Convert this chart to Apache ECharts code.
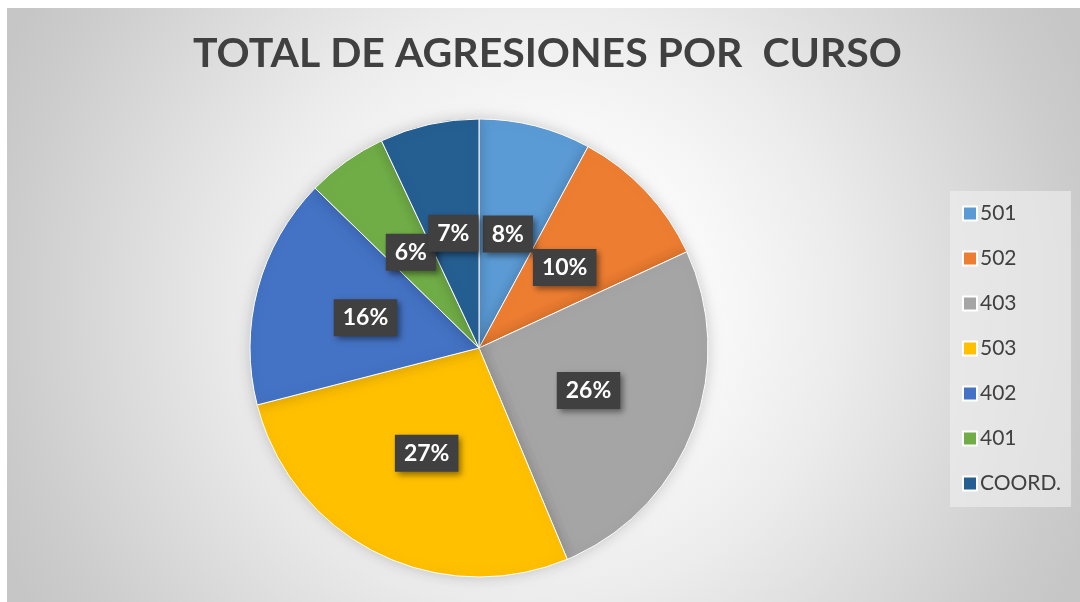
<!DOCTYPE html>
<html>
<head>
<meta charset="utf-8">
<script src="https://cdn.jsdelivr.net/npm/echarts@6/dist/echarts.min.js"></script>
<style>html,body{margin:0;padding:0;background:#fff;}#c{width:1080px;height:602px;}</style>
</head>
<body>
<div id="c"></div>
<script>
const categories = ['501', '502', '403', '503', '402', '401', 'COORD.'];
const values = [7.9, 10.2, 25.6, 27.3, 16.3, 5.7, 7.0];
const colors = ['#5B9BD5', '#ED7D31', '#A5A5A5', '#FFC000', '#4472C4', '#70AD47', '#255E91'];
const titleText = 'TOTAL DE AGRESIONES POR  CURSO';

const chart = echarts.init(document.getElementById('c'), null, {renderer: 'canvas'});
const font = 'Lato, "Open Sans", sans-serif';
chart.setOption({
  animation: false,
  graphic: [
    {type: 'rect', z: -10, shape: {x: 7, y: 8, width: 1073, height: 594},
     style: {fill: {type: 'radial', x: 0.5, y: 0.5, r: 1,
       colorStops: [{offset: 0, color: '#ffffff'}, {offset: 0.25, color: '#fbfbfb'},
                    {offset: 0.5, color: '#ececec'}, {offset: 0.9, color: '#cccccc'}, {offset: 1, color: '#c6c6c6'}]}}},
    {type: 'rect', z: -5, shape: {x: 950, y: 191, width: 121, height: 316},
     style: {fill: 'rgba(240,240,240,0.6)'}}
  ],
  title: {text: titleText, left: 193, top: 33, padding: 0,
    textStyle: {fontFamily: font, fontSize: 41, fontWeight: 'bold', color: '#404040'}},
  legend: {orient: 'vertical', left: 962, top: 203, padding: 0, itemWidth: 14, itemHeight: 14, itemGap: 24,
    icon: 'rect', data: categories,
    textStyle: {fontFamily: font, fontSize: 21, color: '#404040', padding: [0, 0, 0, -2]}},
  series: [{
    type: 'pie', center: [479, 348], radius: 229, startAngle: 90, clockwise: true,
    percentPrecision: 0,
    avoidLabelOverlap: false,
    labelLayout: {hideOverlap: false},
    itemStyle: {borderColor: '#ffffff', borderWidth: 1, shadowColor: 'rgba(0,0,0,0.18)', shadowBlur: 14},
    label: {position: 'inside', formatter: '{d}%', fontFamily: font, fontSize: 23, fontWeight: 'bold',
      color: '#ffffff', backgroundColor: '#404040', padding: [8, 9, 6, 9],
      shadowColor: 'rgba(0,0,0,0.45)', shadowBlur: 6, shadowOffsetX: 3, shadowOffsetY: 3},
    labelLine: {show: false},
    emphasis: {disabled: true},
    data: categories.map((c, i) => ({name: c, value: values[i], itemStyle: {color: colors[i]}}))
  }]
});
</script>
</body>
</html>
